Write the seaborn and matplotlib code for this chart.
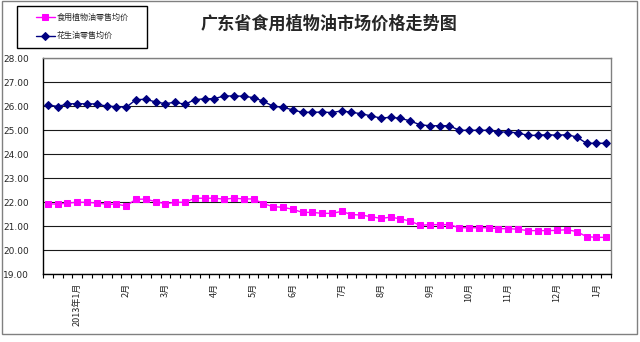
import numpy as np
import pandas as pd
import matplotlib
matplotlib.use("Agg")
import matplotlib.pyplot as plt
from matplotlib.patches import Rectangle
import seaborn as sns

# ---- data ----
veg_oil = [21.94, 21.92, 21.97, 22.00, 22.00, 21.97, 21.92, 21.92, 21.85, 22.13,
           22.13, 22.03, 21.94, 22.00, 22.00, 22.17, 22.17, 22.17, 22.13, 22.17,
           22.14, 22.14, 21.94, 21.82, 21.79, 21.71, 21.58, 21.58, 21.54, 21.54,
           21.62, 21.49, 21.47, 21.40, 21.33, 21.38, 21.31, 21.22, 21.04, 21.07,
           21.07, 21.07, 20.94, 20.94, 20.94, 20.94, 20.90, 20.90, 20.88, 20.82,
           20.82, 20.82, 20.83, 20.86, 20.78, 20.57, 20.54, 20.54]
peanut_oil = [26.06, 25.99, 26.10, 26.11, 26.10, 26.10, 26.00, 25.99, 25.96, 26.28,
              26.29, 26.18, 26.11, 26.17, 26.08, 26.28, 26.31, 26.32, 26.43, 26.43,
              26.42, 26.36, 26.21, 26.00, 25.96, 25.85, 25.75, 25.75, 25.76, 25.74,
              25.81, 25.75, 25.69, 25.60, 25.51, 25.54, 25.50, 25.39, 25.23, 25.19,
              25.19, 25.19, 25.00, 25.00, 25.00, 25.00, 24.93, 24.93, 24.89, 24.79,
              24.79, 24.82, 24.79, 24.82, 24.72, 24.46, 24.46, 24.46]
label_pos = [3, 8, 12, 17, 21, 25, 30, 34, 39, 43, 47, 52, 56]
label_txt = ["2013年1月", "2月", "3月", "4月", "5月", "6月", "7月", "8月",
             "9月", "10月", "11月", "12月", "1月"]
series_names = ["食用植物油零售均价", "花生油零售均价"]
title = "广东省食用植物油市场价格走势图"
y_ticks = [19, 20, 21, 22, 23, 24, 25, 26, 27, 28]

n = len(veg_oil)
idx = np.arange(n)

sns.set_theme(style="white")
plt.rcParams['font.family'] = ['Noto Sans CJK SC', 'DejaVu Sans']

fig = plt.figure(figsize=(6.4, 3.42), dpi=100)
ax = fig.add_axes([43/640, 1-274.3/342, (611-43)/640, (274.3-58.3)/342])

for yv in y_ticks:
    ax.axhline(yv, color='#1a1a1a', lw=0.8, zorder=0)

sns.lineplot(x=idx, y=veg_oil, ax=ax, color='#FF00FF', marker='s', markersize=4.6,
             markeredgecolor='#FF00FF', lw=1.0, label=series_names[0], legend=False)
sns.lineplot(x=idx, y=peanut_oil, ax=ax, color='#000080', marker='D', markersize=3.6,
             markeredgecolor='#000080', lw=1.0, label=series_names[1], legend=False)

ax.set_xlim(-0.5, n - 0.5)
ax.set_ylim(19, 28)
ax.set_yticks(y_ticks)
ax.set_yticklabels([f"{v:.2f}" for v in y_ticks], fontsize=6.5, family='DejaVu Sans')
ax.tick_params(axis='y', length=0, pad=10)

ax.set_xticks(label_pos)
ax.set_xticklabels(label_txt, rotation=90, fontsize=6.5, va='top', ha='center')
ax.set_xticks(np.arange(-0.5, n, 1.0), minor=True)
ax.tick_params(axis='x', which='major', length=0, pad=6)
ax.tick_params(axis='x', which='minor', length=3, width=0.8, color='black', bottom=True, direction='out')
ax.set_xlabel("")
ax.set_ylabel("")

for s in ['left', 'bottom']:
    ax.spines[s].set_color('black')
    ax.spines[s].set_linewidth(1.0)
for s in ['top', 'right']:
    ax.spines[s].set_color('#808080')
    ax.spines[s].set_linewidth(1.0)

# outer chart frame
fig.patches.append(Rectangle((2/640, 8/342), 635/640, 333/342, transform=fig.transFigure,
                             fill=False, edgecolor='#808080', lw=1.0))
# legend box
fig.patches.append(Rectangle((17/640, 1-47.7/342), 130/640, 42/342, transform=fig.transFigure,
                             fill=False, edgecolor='black', lw=1.0))
handles, labels = ax.get_legend_handles_labels()
fig.legend(handles, labels, loc='center', bbox_to_anchor=(82/640, 1-26.5/342),
           frameon=False, fontsize=5.8, handlelength=2.4, handletextpad=0.2,
           labelspacing=1.2, borderpad=0)

fig.text(329/640, 1-24/342, title, ha='center', va='center', fontsize=12.3, fontweight='bold')

fig.savefig("out.png", dpi=100)
